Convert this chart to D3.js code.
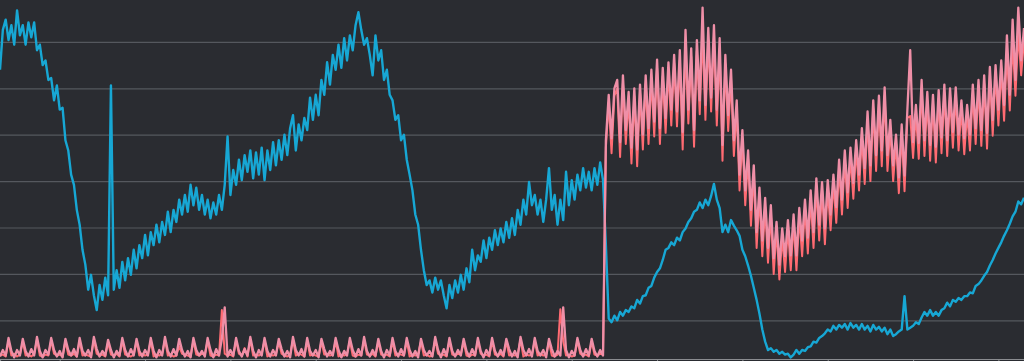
<!DOCTYPE html>
<html>
<head>
  <meta charset="UTF-8">
  <style>
    body { margin: 0; background: #2a2c31; overflow: hidden; }
    svg { display: block; }
  </style>
</head>
<body>
<svg></svg>
<script src="https://d3js.org/d3.v7.min.js"></script>

<script>

let width = 1024, height = 361;

// series values, one value per step (361 steps across the chart)
let blueValues = [
  320,363,374,352,368,347,384,357,368,347,
  371,355,371,341,347,325,330,309,311,287,
  303,277,279,244,233,207,196,169,153,126,
  110,83,99,77,61,88,72,96,77,303,
  83,104,85,113,93,117,99,126,106,131,
  117,142,120,145,131,153,134,156,142,167,
  145,169,156,180,164,185,167,196,174,193,
  169,185,164,180,160,177,164,185,169,196,
  248,185,212,196,223,201,228,210,233,203,
  231,207,236,201,233,212,242,217,244,223,
  250,228,257,271,233,261,244,268,255,290,
  266,293,271,309,293,328,304,336,320,347,
  322,354,330,357,341,368,382,363,347,354,
  336,314,357,330,341,309,320,293,287,266,
  271,244,250,223,207,190,164,153,126,104,
  88,93,80,96,83,93,77,63,88,74,
  93,80,99,83,106,91,126,104,120,113,
  136,117,139,126,147,131,149,134,156,139,
  160,142,169,153,180,164,199,174,185,164,
  180,156,180,214,169,185,153,180,158,210,
  174,201,180,207,190,214,193,210,190,214,
  196,220,201,131,52,48,55,50,59,55,
  61,59,65,63,72,68,76,77,85,87,
  96,102,106,115,126,128,134,131,139,136,
  145,149,156,160,167,169,177,171,180,174,
  184,197,180,171,145,153,145,158,152,147,
  141,126,119,109,98,85,72,57,40,27,
  18,20,16,18,14,16,13,14,10,13,
  18,14,18,17,21,22,27,26,31,33,
  36,40,38,44,40,45,42,46,40,47,
  42,45,40,46,40,44,38,45,40,43,
  38,42,35,40,33,35,38,40,76,40,
  42,44,48,46,53,59,55,61,55,59,
  55,61,63,69,65,72,70,74,72,76,
  76,80,79,87,89,93,98,102,109,115,
  122,128,134,141,147,154,162,167,178,175,
  182
];

let pinkValues = [
  11,18,12,31,17,10,18,12,30,17,
  11,19,12,32,17,10,18,13,31,18,
  11,17,10,30,18,12,19,11,31,17,
  12,18,10,32,19,11,17,12,29,18,
  10,17,12,31,18,11,19,12,30,17,
  11,18,12,31,17,10,18,12,32,17,
  11,19,12,30,18,11,17,10,31,18,
  12,17,11,31,18,10,19,12,30,64,
  11,18,12,31,17,11,19,12,32,17,
  10,18,12,31,17,11,18,12,30,19,
  11,17,10,32,18,12,19,11,31,17,
  12,18,10,30,19,11,17,12,31,18,
  10,17,12,31,18,11,19,12,32,17,
  11,18,12,30,17,10,18,12,31,17,
  11,19,12,31,18,11,17,10,30,18,
  12,17,11,32,18,10,19,12,31,17,
  11,18,12,30,17,11,19,12,31,17,
  10,18,12,31,17,11,18,12,30,19,
  11,17,10,32,18,12,19,11,31,17,
  12,18,10,30,19,11,17,12,64,18,
  10,17,12,31,18,11,19,12,30,17,
  11,18,12,244,293,246,300,309,242,314,
  255,296,236,300,234,304,250,314,257,320,
  264,331,257,322,268,328,277,336,275,341,
  253,363,277,343,255,352,287,387,282,365,
  290,368,277,354,239,336,271,320,244,287,
  207,255,190,233,169,217,145,193,136,182,
  128,174,117,156,110,149,119,158,120,164,
  120,171,136,180,139,190,145,203,153,199,
  149,201,164,207,172,223,180,233,188,236,
  198,244,207,257,214,275,217,287,228,292,
  233,301,228,266,217,250,204,261,206,277,
  341,242,282,241,309,244,296,239,293,237,
  298,247,304,244,300,253,301,250,287,246,
  282,250,304,257,309,255,314,252,323,266,
  325,277,330,282,357,293,374,309,387,330,
  365
];

let redValues = [
  12,13,11,28,12,14,11,13,27,12,
  13,11,14,29,12,11,13,12,28,14,
  12,13,11,27,13,12,14,11,28,12,
  13,12,11,29,14,12,13,11,26,13,
  12,14,11,28,13,12,11,13,27,12,
  14,12,13,28,11,13,12,14,29,12,
  13,11,12,22,14,13,12,11,28,13,
  12,14,13,28,12,11,13,12,61,14,
  12,13,11,28,14,12,20,11,29,12,
  13,12,14,28,11,13,12,13,27,14,
  12,11,13,29,12,14,13,11,28,12,
  13,12,11,27,13,14,12,13,28,11,
  13,12,14,28,12,11,13,12,29,13,
  12,14,11,27,13,12,13,11,28,12,
  14,13,12,28,11,13,12,14,27,12,
  13,11,12,29,14,12,13,11,28,13,
  12,14,13,27,12,11,13,12,28,14,
  12,13,11,28,13,12,14,11,27,12,
  13,12,14,29,11,13,12,13,28,12,
  14,12,13,27,12,11,13,62,28,12,
  13,11,12,28,14,12,13,11,27,13,
  12,14,13,236,285,230,292,300,226,306,
  240,288,219,291,216,296,234,305,240,311,
  248,322,240,313,252,320,260,327,259,330,
  234,345,262,334,237,340,272,360,266,352,
  275,355,260,343,222,326,254,310,227,277,
  190,246,174,224,152,208,128,184,119,172,
  112,165,100,147,94,140,102,149,104,155,
  104,162,119,171,122,181,128,194,136,190,
  132,192,147,198,155,214,164,224,171,227,
  181,235,190,248,197,266,200,278,211,283,
  216,292,211,257,200,241,187,252,189,268,
  270,225,273,224,300,227,287,222,284,220,
  289,230,295,227,291,236,292,233,278,229,
  273,233,295,240,300,238,305,235,314,249,
  316,260,321,265,340,276,350,292,360,314,
  352
];

let gridValues = [50, 100, 150, 200, 250, 300, 350];
let xTickValues = [21, 51, 81, 111, 141, 171, 201, 231, 261, 291, 321, 351];

let svg = d3.select("svg")
    .attr("width", width)
    .attr("height", height)
    .attr("viewBox", "0 0 " + width + " " + height);

svg.append("rect")
    .attr("width", width)
    .attr("height", height)
    .attr("fill", "#2a2c31");

let x = d3.scaleLinear()
    .domain([0, blueValues.length - 1])
    .range([0, width]);

let y = d3.scaleLinear()
    .domain([0, 350])
    .range([366.7, 41.9]);

// horizontal grid
let grid = svg.append("g")
    .attr("class", "grid")
    .call(d3.axisLeft(y).tickValues(gridValues).tickSize(-width).tickFormat(""));
grid.select(".domain").remove();
grid.selectAll("line")
    .attr("stroke", "#55585e")
    .attr("stroke-width", 1.2);

// bottom axis, its labels fall below the visible area
let xAxis = svg.append("g")
    .attr("transform", "translate(0,359)")
    .call(d3.axisBottom(x).tickValues(xTickValues).tickSize(6).tickFormat(""));
xAxis.select(".domain").attr("stroke", "#8a8c90").attr("stroke-width", 1.2);
xAxis.selectAll("line").attr("stroke", "#8a8c90");

let line = d3.line()
    .x((d, i) => x(i))
    .y(d => y(d));

svg.append("path")
    .datum(blueValues)
    .attr("fill", "none")
    .attr("stroke", "#17a7d4")
    .attr("stroke-width", 2.4)
    .attr("stroke-linejoin", "round")
    .attr("d", line);

svg.append("path")
    .datum(redValues)
    .attr("fill", "none")
    .attr("stroke", "#ff6b72")
    .attr("stroke-width", 2)
    .attr("stroke-linejoin", "round")
    .attr("d", line);

svg.append("path")
    .datum(pinkValues)
    .attr("fill", "none")
    .attr("stroke", "#ef8fa7")
    .attr("stroke-width", 2.3)
    .attr("stroke-linejoin", "round")
    .attr("d", line);

</script>

</body>
</html>
